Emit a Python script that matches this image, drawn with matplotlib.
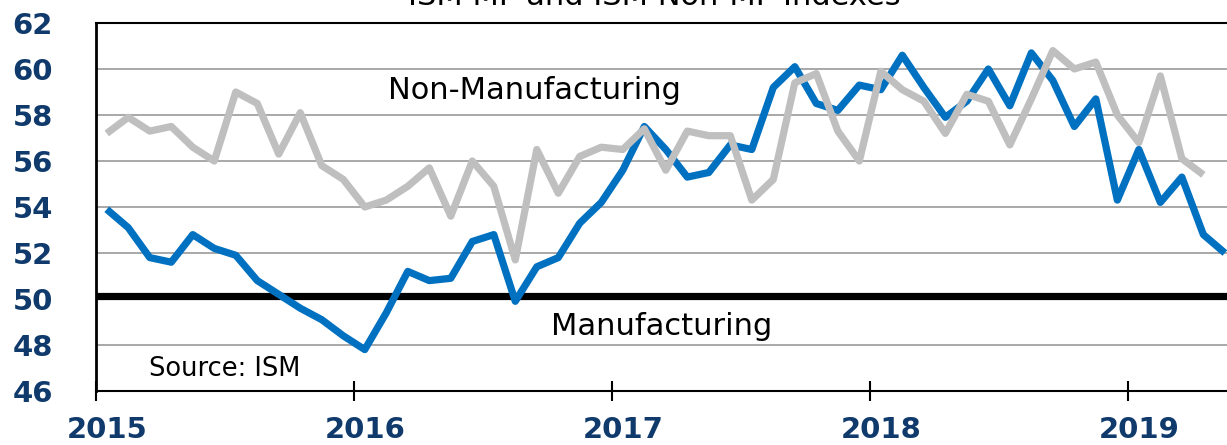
import matplotlib
matplotlib.use("Agg")
import matplotlib.pyplot as plt
import numpy as np

# ---- data (monthly, Jan 2015 onward) ----
manufacturing = [53.9, 53.1, 51.8, 51.6, 52.8, 52.2, 51.9, 50.8, 50.2, 49.6, 49.1, 48.4,
                 47.8, 49.4, 51.2, 50.8, 50.9, 52.5, 52.8, 49.9, 51.4, 51.8, 53.3, 54.2,
                 55.6, 57.5, 56.5, 55.3, 55.5, 56.7, 56.5, 59.2, 60.1, 58.5, 58.2, 59.3,
                 59.1, 60.6, 59.2, 57.9, 58.6, 60.0, 58.4, 60.7, 59.5, 57.5, 58.7, 54.3,
                 56.5, 54.2, 55.3, 52.8, 52.0]
non_manufacturing = [57.2, 57.9, 57.3, 57.5, 56.6, 56.0, 59.0, 58.5, 56.3, 58.1, 55.8, 55.2,
                     54.0, 54.3, 54.9, 55.7, 53.6, 56.0, 54.9, 51.7, 56.5, 54.6, 56.2, 56.6,
                     56.5, 57.4, 55.6, 57.3, 57.1, 57.1, 54.3, 55.2, 59.4, 59.8, 57.3, 56.0,
                     59.9, 59.1, 58.6, 57.2, 58.9, 58.6, 56.7, 58.7, 60.8, 60.0, 60.3, 58.0,
                     56.8, 59.7, 56.1, 55.4]
year_labels = ["2015", "2016", "2017", "2018", "2019"]
y_ticks = [46, 48, 50, 52, 54, 56, 58, 60, 62]
threshold = 50.15
title = "ISM MF and ISM Non-MF Indexes"

W, H = 1227, 445
fig = plt.figure(figsize=(W / 100, H / 100), dpi=100)
ax = fig.add_axes([96 / W, 1 - 391 / H, (W - 96) / W, (391 - 23) / H])

navy = "#0F3A6B"
blue = "#0070C0"
gray = "#BFBFBF"

x_m = np.arange(len(manufacturing))
x_n = np.arange(len(non_manufacturing))

for v in y_ticks:
    if v not in (46, 62):
        ax.axhline(v, color="#999999", lw=1.2, zorder=1)
ax.axhline(threshold, color="black", lw=5.2, zorder=2)

ax.plot(x_m, manufacturing, color=blue, lw=5.2, zorder=3,
        solid_joinstyle="round", solid_capstyle="butt")
ax.plot(x_n, non_manufacturing, color=gray, lw=5.2, zorder=4,
        solid_joinstyle="round", solid_capstyle="butt")

ax.set_xlim(-0.5, 52.1)
ax.set_ylim(46, 62)

# x ticks: year boundaries (marks) and labels at January
ax.set_xticks([12 * k - 0.5 for k in range(len(year_labels))])
ax.set_xticklabels([])
ax.set_xticks([12 * k for k in range(len(year_labels))], minor=True)
ax.set_xticklabels(year_labels, minor=True)
ax.tick_params(axis="x", which="major", direction="inout", length=14.5, width=1.5,
               color="black")
ax.tick_params(axis="x", which="minor", length=0, pad=33.6, labelsize=21,
               labelcolor=navy)
for lab in ax.get_xticklabels(minor=True):
    lab.set_fontweight("bold")
    lab.set_verticalalignment("baseline")

ax.set_yticks(y_ticks)
ax.set_yticklabels([str(v) for v in y_ticks])
ax.tick_params(axis="y", length=0, pad=31, labelsize=21, labelcolor=navy)
for lab in ax.get_yticklabels():
    lab.set_fontweight("bold")

for s in ["left", "bottom", "top"]:
    ax.spines[s].set_color("black")
ax.spines["left"].set_linewidth(2.0)
ax.spines["bottom"].set_linewidth(1.5)
ax.spines["top"].set_linewidth(1.5)
ax.spines["right"].set_visible(False)

ax.text(19.9, 59.05, "Non-Manufacturing", fontsize=22, ha="center", va="center",
        color="black", zorder=5)
ax.text(25.8, 48.8, "Manufacturing", fontsize=22, ha="center", va="center",
        color="black", zorder=5)
ax.text(5.5, 46.97, "Source: ISM", fontsize=18.5, ha="center", va="center",
        color="black", zorder=5)

fig.text(654 / W, 1 - 5 / H, title, fontsize=22, ha="center", va="baseline",
         color="black")

fig.savefig("out.png", dpi=100)
